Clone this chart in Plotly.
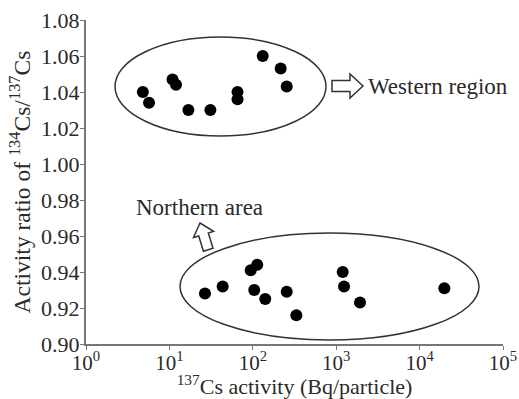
import math
import plotly.graph_objects as go

# ---------------- data ----------------
west_activity = [4.8, 5.7, 10.9, 12.0, 16.9, 31.0, 65.6, 65.6, 131.5, 216.0, 255.0]
west_ratio = [1.040, 1.034, 1.047, 1.044, 1.030, 1.030, 1.040, 1.036, 1.060, 1.053, 1.043]

north_activity = [26.7, 43.5, 94.4, 113.0, 104.0, 141.0, 255.0, 333.0, 1197.0, 1241.0, 1929.0, 19800.0]
north_ratio = [0.928, 0.932, 0.941, 0.944, 0.930, 0.925, 0.929, 0.916, 0.940, 0.932, 0.923, 0.931]

x_tickvals = [1, 10, 100, 1000, 10000, 100000]
x_ticktext = ["10<sup>0</sup>", "10<sup>1</sup>", "10<sup>2</sup>", "10<sup>3</sup>",
              "10<sup>4</sup>", "10<sup>5</sup>"]
y_tickvals = [0.90, 0.92, 0.94, 0.96, 0.98, 1.00, 1.02, 1.04, 1.06, 1.08]

label_west = "Western region"
label_north = "Northern area"

# ---------------- layout geometry ----------------
W, H = 519, 399
ML, MR, MT, MB = 86, 16, 20, 55
PW, PH = W - ML - MR, H - MT - MB
FONT = "Liberation Serif, Times New Roman, serif"
TXT = "#2a2a2a"


def px2paper(px, py):
    return (px - ML) / PW, (H - MB - py) / PH


fig = go.Figure()
fig.add_trace(go.Scatter(x=west_activity, y=west_ratio, mode="markers",
                         marker=dict(color="black", size=12), showlegend=False))
fig.add_trace(go.Scatter(x=north_activity, y=north_ratio, mode="markers",
                         marker=dict(color="black", size=12), showlegend=False))

shapes = []
for (x0, y0, x1, y1) in [(115, 37, 326, 136), (180, 233, 479, 340)]:
    a0, b0 = px2paper(x0, y1)
    a1, b1 = px2paper(x1, y0)
    shapes.append(dict(type="circle", xref="paper", yref="paper", x0=a0, y0=b0,
                       x1=a1, y1=b1, line=dict(color="#333", width=1.5)))


def block_arrow(tip, direction, length, head_len, head_half, shaft_half):
    tx, ty = tip
    dx, dy = direction
    n = math.hypot(dx, dy)
    ux, uy = dx / n, dy / n
    qx, qy = uy, -ux
    hx, hy = tx + head_len * ux, ty + head_len * uy
    bx, by = tx + length * ux, ty + length * uy
    pts = [
        (tx, ty),
        (hx + head_half * qx, hy + head_half * qy),
        (hx + shaft_half * qx, hy + shaft_half * qy),
        (bx + shaft_half * qx, by + shaft_half * qy),
        (bx - shaft_half * qx, by - shaft_half * qy),
        (hx - shaft_half * qx, hy - shaft_half * qy),
        (hx - head_half * qx, hy - head_half * qy),
    ]
    pp = [px2paper(x, y) for x, y in pts]
    path = "M " + " L ".join(f"{a:.5f},{b:.5f}" for a, b in pp) + " Z"
    return dict(type="path", xref="paper", yref="paper", path=path,
                line=dict(color="#333", width=1.5), fillcolor="white")


shapes.append(block_arrow((363, 86), (-1, 0), 31, 13, 12, 5.5))
shapes.append(block_arrow((200, 223), (8, 26), 28, 12, 10.5, 5))

annotations = [
    dict(text=label_west, xref="paper", yref="paper",
         x=px2paper(366, 0)[0], y=px2paper(0, 86)[1], xanchor="left", yanchor="middle",
         showarrow=False, font=dict(family=FONT, size=23, color=TXT)),
    dict(text=label_north, xref="paper", yref="paper",
         x=px2paper(134, 0)[0], y=px2paper(0, 207)[1], xanchor="left", yanchor="middle",
         showarrow=False, font=dict(family=FONT, size=23, color=TXT)),
]

fig.update_layout(
    width=W, height=H,
    margin=dict(l=ML, r=MR, t=MT, b=MB, autoexpand=False),
    paper_bgcolor="white", plot_bgcolor="white",
    font=dict(family=FONT, size=22, color=TXT),
    shapes=shapes, annotations=annotations,
    showlegend=False,
)
fig.update_xaxes(type="log", range=[0, 5], tickvals=x_tickvals, ticktext=x_ticktext,
                 automargin=False, showgrid=False, zeroline=False, showline=True,
                 linecolor="#777", linewidth=2, ticks="outside", ticklen=4,
                 tickcolor="#777", tickfont=dict(family=FONT, size=21, color=TXT),
                 ticklabelstandoff=-5,
                 title=dict(text="<sup>137</sup>Cs activity (Bq/particle)", standoff=5,
                            font=dict(family=FONT, size=22, color=TXT)))
fig.update_yaxes(range=[0.90, 1.08], tickvals=y_tickvals, tickformat=".2f",
                 automargin=False, showgrid=False, zeroline=False, showline=True,
                 linecolor="#777", linewidth=2, ticks="outside", ticklen=4,
                 tickcolor="#777", tickfont=dict(family=FONT, size=22, color=TXT),
                 ticklabelstandoff=-4,
                 title=dict(text="Activity ratio of <sup>134</sup>Cs/<sup>137</sup>Cs",
                            standoff=4, font=dict(family=FONT, size=23.5, color=TXT)))

fig.write_html("out.html")
